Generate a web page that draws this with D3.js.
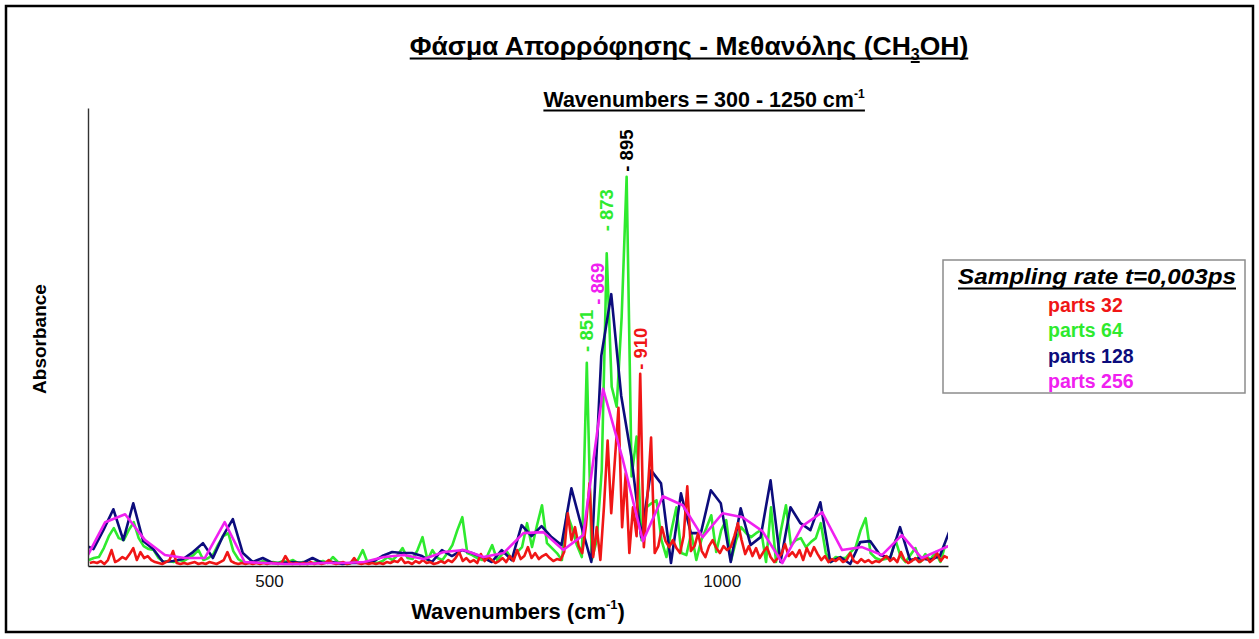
<!DOCTYPE html>
<html>
<head>
<meta charset="utf-8">
<script src="https://cdn.jsdelivr.net/npm/d3@7"></script>
<style>
  html, body { margin: 0; padding: 0; background: #fff; }
  svg { display: block; }
  text { font-family: "Liberation Sans", Arial, Helvetica, sans-serif; }
</style>
</head>
<body>
<svg id="chart" width="1259" height="639"></svg>
<script>
// Wavenumber grids (cm^-1) of the four sampling sets
const parts32Start = 302, parts32Step = 4;
const parts64Start = 301, parts64Step = 5.5;
const parts128Start = 295, parts128Step = 11;
const parts256Start = 297, parts256Step = 22;

// Absorbance (arbitrary units) on each grid
const parts32 = [
  3,4,3,5,2,6,16,4,6,9,
  7,12,18,6,14,8,10,6,4,3,
  2,4,6,15,3,2,3,2,3,4,
  2,3,2,4,3,2,4,6,14,5,
  3,2,3,2,3,2,3,2,3,2,
  3,3,2,3,10,4,2,3,2,3,
  2,4,2,3,2,3,6,3,2,3,
  4,2,3,8,3,2,3,2,3,2,
  3,2,4,3,5,4,8,3,4,2,
  5,3,6,3,4,2,3,5,3,6,
  4,8,14,5,8,4,6,3,12,5,
  9,6,3,5,8,4,10,5,16,7,
  10,19,8,13,7,10,12,8,5,7,
  6,14,53,26,39,20,13,40,83,9,
  39,6,60,126,53,106,159,39,93,13,
  59,30,193,19,70,129,13,20,39,25,
  19,26,18,13,30,80,15,20,33,15,
  9,20,26,18,13,20,16,19,30,43,
  26,12,20,10,18,8,14,19,9,4,
  8,12,22,10,14,9,16,6,18,10,
  19,12,6,10,4,7,5,8,4,6,
  13,5,3,7,4,6,3,5,4,7,
  10,5,8,4,14,6,3,5,8,4,
  6,9,4,7,13,5,10,8
];
const parts64 = [
  6,8,9,18,30,38,28,26,36,44,
  28,20,17,16,8,4,5,4,6,5,
  8,11,16,6,8,12,22,30,33,15,
  7,4,3,4,3,5,3,4,3,5,
  4,6,3,4,2,3,4,5,3,9,
  4,3,2,4,6,16,3,4,3,5,
  9,6,11,18,8,7,16,29,6,16,
  8,6,13,21,36,49,13,11,8,6,
  10,21,6,12,14,6,14,19,43,19,
  41,61,23,18,13,6,53,39,21,9,
  204,6,26,96,314,180,160,250,391,90,
  130,26,59,63,66,26,9,36,59,13,
  11,33,6,26,38,51,14,36,46,6,
  26,39,33,29,33,36,4,59,4,36,
  61,21,26,28,19,24,28,43,13,4,
  9,8,8,14,19,36,48,13,8,6,
  7,9,26,10,4,11,18,4,12,6,
  14,4,21
];
const parts128 = [
  22,17,36,57,26,63,25,17,4,5,
  7,14,23,8,30,47,13,4,8,3,
  3,4,3,8,3,4,2,3,3,4,
  10,14,13,13,10,4,16,10,16,13,
  9,4,16,6,41,30,40,29,21,78,
  40,4,211,273,171,111,29,96,83,3,
  73,33,33,76,63,4,58,21,29,86,
  4,59,43,36,64,4,9,2,24,25,
  11,8,39,6,8,6,10,36
];
const parts256 = [
  6,44,52,26,11,8,8,44,4,3,
  2,2,3,3,4,9,11,7,14,16,
  9,13,33,34,16,31,178,106,25,70,
  61,29,53,49,35,3,40,54,16,19,
  11,31,8,17,26
];

const seriesNames  = ["parts 32", "parts 64", "parts 128", "parts 256"];
const seriesColors = ["#f01616", "#2eea2e", "#0c0c7c", "#f020f0"];
const xTicks = [500, 1000];

// Annotated peaks: wavenumber, the set it belongs to, label colour
const peakWaves  = [851, 869, 873, 895, 910];
const peakSets   = ["parts 64", "parts 256", "parts 64", "parts 64", "parts 32"];
const peakColors = ["#2eea2e", "#f020f0", "#2eea2e", "#000000", "#f01616"];

const svg = d3.select("#chart");
const W = 1259, H = 639;

// outer frame
svg.append("rect")
  .attr("x", 6).attr("y", 6).attr("width", W - 12).attr("height", H - 13)
  .attr("fill", "none").attr("stroke", "#000").attr("stroke-width", 2.5);

const x = d3.scaleLinear().domain([300, 1250]).range([88, 948]);
const y = d3.scaleLinear().domain([0, 460]).range([566, 108]);

function toPoints(vals, start, step) {
  return vals.map((v, i) => ({ w: start + i * step, a: v }));
}
const sets = {
  "parts 32":  toPoints(parts32,  parts32Start,  parts32Step),
  "parts 64":  toPoints(parts64,  parts64Start,  parts64Step),
  "parts 128": toPoints(parts128, parts128Start, parts128Step),
  "parts 256": toPoints(parts256, parts256Start, parts256Step)
};
const colorOf = d3.scaleOrdinal().domain(seriesNames).range(seriesColors);

// clip the traces to the plotting area
svg.append("defs").append("clipPath").attr("id", "plotClip")
  .append("rect")
  .attr("x", x(300)).attr("y", 0)
  .attr("width", x(1250) - x(300)).attr("height", y(0) + 1);

const line = d3.line().x(d => x(d.w)).y(d => y(d.a));
const drawOrder = ["parts 64", "parts 128", "parts 32", "parts 256"];
const traces = svg.append("g").attr("clip-path", "url(#plotClip)");
drawOrder.forEach(name => {
  traces.append("path")
    .datum(sets[name])
    .attr("d", line)
    .attr("fill", "none")
    .attr("stroke", colorOf(name))
    .attr("stroke-width", 2.6)
    .attr("stroke-linejoin", "round");
});

// axes
const xAxis = svg.append("g")
  .attr("transform", `translate(0,${y(0)})`)
  .call(d3.axisBottom(x).tickValues(xTicks).tickFormat(d3.format("d"))
    .tickSize(0).tickSizeOuter(0).tickPadding(9));
xAxis.select(".domain").attr("stroke", "#111").attr("stroke-width", 1.6);
xAxis.selectAll("text")
  .style("font-family", '"Liberation Sans", Arial, sans-serif')
  .attr("font-size", 17).attr("fill", "#111");

const yAxis = svg.append("g")
  .attr("transform", `translate(${x(300)},0)`)
  .call(d3.axisLeft(y).tickValues([]).tickSize(0).tickSizeOuter(0));
yAxis.select(".domain").attr("stroke", "#333").attr("stroke-width", 1.4);

// peak annotations, written upward from just above each peak
const labelLift  = { 851: 11, 869: 84, 873: 22, 895: 5, 910: 4 };
const labelNudge = { 851: 0, 869: -6, 873: 0, 895: 0, 910: 0 };
peakWaves.forEach((wv, i) => {
  const pt = sets[peakSets[i]].find(d => Math.abs(d.w - wv) < 1e-6);
  const px = x(wv) + labelNudge[wv], py = y(pt.a) - labelLift[wv];
  svg.append("text")
    .attr("transform", `translate(${px},${py}) rotate(-90)`)
    .attr("dy", "0.36em")
    .attr("font-size", 18.5).attr("font-weight", "bold")
    .attr("fill", peakColors[i])
    .text("- " + wv);
});

// underline helper for titles
function underline(textSel, yLine, thick) {
  const bb = textSel.node().getBBox();
  svg.append("line")
    .attr("x1", bb.x).attr("x2", bb.x + bb.width)
    .attr("y1", yLine).attr("y2", yLine)
    .attr("stroke", "#000").attr("stroke-width", thick);
}

// main title
const titleMain = "Φάσμα Απορρόφησης - Μεθανόλης (CH";
const title = svg.append("text")
  .attr("x", 689).attr("y", 55).attr("text-anchor", "middle")
  .attr("font-size", 26.5).attr("font-weight", "bold").attr("fill", "#000");
title.append("tspan").text(titleMain);
title.append("tspan").attr("font-size", 16).attr("dy", 5).text("3");
title.append("tspan").attr("dy", -5).text("OH)");
underline(title, 58.5, 2.2);
{
  const ext = title.node().getExtentOfChar(titleMain.length);
  svg.append("line")
    .attr("x1", ext.x).attr("x2", ext.x + ext.width)
    .attr("y1", 62).attr("y2", 62)
    .attr("stroke", "#000").attr("stroke-width", 2);
}

// subtitle
const subtitle = svg.append("text")
  .attr("x", 704).attr("y", 107).attr("text-anchor", "middle")
  .attr("font-size", 21.5).attr("font-weight", "bold").attr("fill", "#000");
subtitle.append("tspan").text("Wavenumbers = 300 - 1250 cm");
subtitle.append("tspan").attr("font-size", 12).attr("dy", -9).text("-1");
underline(subtitle, 110.5, 2);

// axis titles
const xTitle = svg.append("text")
  .attr("x", 518).attr("y", 619).attr("text-anchor", "middle")
  .attr("font-size", 22).attr("font-weight", "bold").attr("fill", "#000");
xTitle.append("tspan").text("Wavenumbers (cm");
xTitle.append("tspan").attr("font-size", 13).attr("dy", -10).text("-1");
xTitle.append("tspan").attr("dy", 10).text(")");

svg.append("text")
  .attr("transform", "translate(46,339) rotate(-90)")
  .attr("text-anchor", "middle")
  .attr("font-size", 19).attr("font-weight", "bold").attr("fill", "#000")
  .text("Absorbance");

// legend
const legend = svg.append("g");
legend.append("rect")
  .attr("x", 943).attr("y", 260).attr("width", 302).attr("height", 133)
  .attr("fill", "#fff").attr("stroke", "#8c8c8c").attr("stroke-width", 1.5);
const legTitle = legend.append("text")
  .attr("x", 1097).attr("y", 284).attr("text-anchor", "middle")
  .attr("font-size", 22).attr("font-weight", "bold").attr("font-style", "italic")
  .attr("textLength", 278).attr("lengthAdjust", "spacingAndGlyphs")
  .attr("fill", "#000").text("Sampling rate t=0,003ps");
underline(legTitle, 288.5, 2);
seriesNames.forEach((name, i) => {
  legend.append("text")
    .attr("x", 1048).attr("y", 312 + i * 25.3)
    .attr("font-size", 19.5).attr("font-weight", "bold")
    .attr("fill", colorOf(name))
    .text(name);
});
</script>
</body>
</html>
